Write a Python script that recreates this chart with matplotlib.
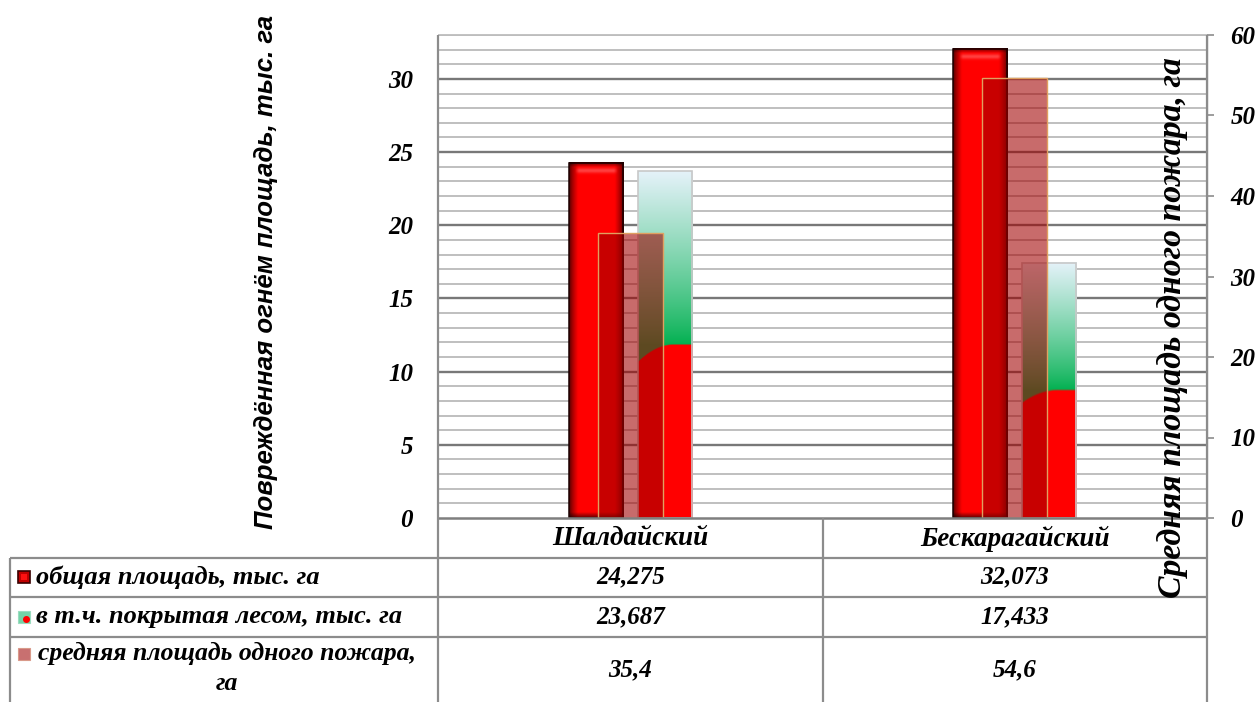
import numpy as np
import matplotlib
matplotlib.use("Agg")
import matplotlib.pyplot as plt
from matplotlib.lines import Line2D
from matplotlib.patches import Rectangle, Ellipse

# ---- data ----
districts = ["Шалдайский", "Бескарагайский"]
total_area = [24.275, 32.073]      # общая площадь, тыс. га
forest_area = [23.687, 17.433]     # в т.ч. покрытая лесом, тыс. га
mean_fire_area = [35.4, 54.6]      # средняя площадь одного пожара, га
series_names = ["общая площадь, тыс. га",
                "в т.ч. покрытая лесом, тыс. га",
                "средняя площадь одного пожара,\nга"]
left_ticks = [0, 5, 10, 15, 20, 25, 30]
right_ticks = [0, 10, 20, 30, 40, 50, 60]
left_title = "Повреждённая огнём площадь, тыс. га"
right_title = "Средняя площадь одного пожара, га"

W, H = 1259, 702
fig = plt.figure(figsize=(W / 100, H / 100), dpi=100)


def fx(px):
    return px / W


def fy(py):
    return 1 - py / H


SERIF = dict(family="Liberation Serif", weight="bold", style="italic")
GRID_C = "#8a8a8a"
LINE_C = "#8c8c8c"

L, R, T, B = 438, 1207, 35, 518
ax = fig.add_axes([fx(L), fy(B), (R - L) / W, (B - T) / H])
ax2 = ax.twinx()

ax.set_xlim(-0.5, len(districts) - 0.5)
ax.set_ylim(0, 33)
ax2.set_ylim(0, 60)

# gridlines: minor every 1, major every 5 (primary axis)
for v in np.arange(1, 34):
    major = (v % 5 == 0)
    ax.axhline(v, color="#787878" if major else "#bababa",
               lw=1.7 if major else 1.3, zorder=0.5)

for s in ("top", "bottom"):
    ax.spines[s].set_visible(False)
    ax2.spines[s].set_visible(False)
ax.spines["left"].set_visible(False)
ax2.spines["left"].set_visible(False)
ax2.spines["right"].set_visible(False)

ax.set_xticks([])
ax.set_yticks(left_ticks)
ax.set_yticklabels([str(t) for t in left_ticks], fontdict=SERIF, fontsize=18)
ax.tick_params(axis="y", length=0, pad=18)
ax2.set_yticks(right_ticks)
ax2.set_yticklabels([str(t) for t in right_ticks], fontdict=SERIF, fontsize=18)
ax2.tick_params(axis="y", length=5, width=1.2, color=LINE_C, pad=12)
ax2.patch.set_visible(False)

xs = np.arange(len(districts))
off = 0.0897
bw_p = 0.141
bw_s = 0.169

fig.canvas.draw()


def px_size(axis, x0, y0, x1, y1):
    p0 = axis.transData.transform((x0, y0))
    p1 = axis.transData.transform((x1, y1))
    return abs(p1[0] - p0[0]), abs(p1[1] - p0[1])


def red_bevel(wpx, hpx):
    w, h = max(int(round(wpx)), 4), max(int(round(hpx)), 4)
    xx = np.arange(w) + 0.5
    yy = np.arange(h) + 0.5
    dx = np.minimum(xx, w - xx)
    dy_top = h - yy
    dy_bot = yy
    fxp = 0.25 + 0.75 * np.clip(dx / 9.0, 0, 1) ** 0.7
    fyp = (0.35 + 0.65 * np.clip(dy_top / 5.0, 0, 1)) * (0.35 + 0.65 * np.clip(dy_bot / 6.0, 0, 1))
    f = np.clip(fyp[:, None] * fxp[None, :], 0, 1)
    img = np.zeros((h, w, 3))
    img[..., 0] = f
    # highlight strip near the top
    band = np.exp(-((dy_top - 8.5) / 2.5) ** 2)[:, None] * np.clip((dx - 6) / 4.0, 0, 1)[None, :]
    hl = np.array([1.0, 0.45, 0.45])
    img = img * (1 - 0.55 * band[..., None]) + hl * 0.55 * band[..., None]
    return img


def forest_fill(wpx, hpx):
    w, h = max(int(round(wpx)), 4), max(int(round(hpx)), 4)
    u = (np.arange(w) + 0.5) / w
    v = (np.arange(h) + 0.5) / h
    U, V = np.meshgrid(u, v)
    bound = 0.5 - 0.05 * np.clip((0.65 - U) / 0.65, 0, 1) ** 2
    t = np.clip((V - 0.5) / 0.5, 0, 1) ** 0.85
    green = np.array([0.0, 0.69, 0.31])
    light = np.array([0.90, 0.95, 0.98])
    up = green[None, None, :] * (1 - t[..., None]) + light[None, None, :] * t[..., None]
    redc = np.array([1.0, 0.0, 0.0])
    m = np.clip((bound - V) * h / 1.5 + 0.5, 0, 1)[..., None]
    return up * (1 - m) + redc * m


# total area bars (primary axis)
for x, val in zip(xs, total_area):
    x0 = x - off - bw_p / 2
    wpx, hpx = px_size(ax, x0, 0, x0 + bw_p, val)
    ax.imshow(red_bevel(wpx, hpx), extent=(x0, x0 + bw_p, 0, val), origin="lower",
              aspect="auto", interpolation="bilinear", zorder=2)
ax.bar(xs - off, total_area, width=bw_p, color="none", edgecolor="#1a0000", lw=1.1, zorder=2.5)

# forest-covered area bars (primary axis)
for x, val in zip(xs, forest_area):
    x0 = x + off - bw_p / 2
    wpx, hpx = px_size(ax, x0, 0, x0 + bw_p, val)
    ax.imshow(forest_fill(wpx, hpx), extent=(x0, x0 + bw_p, 0, val), origin="lower",
              aspect="auto", interpolation="bilinear", zorder=2)
ax.bar(xs + off, forest_area, width=bw_p, color="none", edgecolor="#c8c8c8", lw=1.2, zorder=2.5)

ax.set_xlim(-0.5, len(districts) - 0.5)
ax.set_ylim(0, 33)

# mean fire area bars (secondary axis), translucent
ax2.bar(xs, mean_fire_area, width=bw_s, color=(0.63, 0.0, 0.0, 0.58),
        edgecolor="#e0a060", lw=1.0, zorder=3)
ax2.set_xlim(-0.5, len(districts) - 0.5)
ax2.set_ylim(0, 60)


# ---- frame and data table lines ----
def fline(x0, y0, x1, y1, color=LINE_C, lw=1.6):
    fig.add_artist(Line2D([fx(x0), fx(x1)], [fy(y0), fy(y1)], color=color, lw=lw,
                          transform=fig.transFigure, solid_capstyle="butt"))


rows = [518, 557.5, 597, 637]
fline(L, T, R, T, color="#bdbdbd", lw=1.3)
fline(L, B, R, B, color="#7f7f7f", lw=1.8)
for ry in rows[1:]:
    fline(10, ry, R, ry)
fline(10, rows[1], 10, H)
fline(L, T, L, H)
fline((L + R) / 2, B, (L + R) / 2, H)
fline(R, T, R, H)

col_centers = [(L + (L + R) / 2) / 2, ((L + R) / 2 + R) / 2]
hdr_y = (rows[0] + rows[1]) / 2
for cx, name in zip(col_centers, districts):
    fig.text(fx(cx), fy(hdr_y + 1), name, ha="center", va="center", fontsize=19.5, **SERIF)


def fmt(v):
    return f"{v:g}".replace(".", ",")


row_mid = [(rows[1] + rows[2]) / 2, (rows[2] + rows[3]) / 2, (rows[3] + H) / 2]
for series, ry in zip([total_area, forest_area, mean_fire_area], row_mid):
    for cx, val in zip(col_centers, series):
        fig.text(fx(cx), fy(ry), fmt(val), ha="center", va="center", fontsize=18, **SERIF)

# legend keys + series names
fig.text(fx(36), fy(row_mid[0]), series_names[0], ha="left", va="center", fontsize=19, **SERIF)
fig.text(fx(36), fy(row_mid[1]), series_names[1], ha="left", va="center", fontsize=19, **SERIF)
fig.text(fx(227), fy(row_mid[2] - 1), series_names[2], ha="center", va="center",
         multialignment="center", fontsize=18.5, linespacing=1.35, **SERIF)


def key_rect(x, y, w, h, fc, ec, lw=0.8):
    fig.add_artist(Rectangle((fx(x), fy(y + h)), w / W, h / H, facecolor=fc, edgecolor=ec,
                             lw=lw, transform=fig.transFigure))


key_rect(18, 571, 12, 12, "#c00000", "#3a0000", 1.2)
key_rect(21, 574, 6, 6, "#ff1010", "none", 0)
key_rect(18, 611, 12, 12, "#72d3a6", "#9adcc0", 0.8)
fig.add_artist(Ellipse((fx(26.5), fy(619.5)), 7 / W, 7 / H, facecolor="#ff0000",
                       edgecolor="none", transform=fig.transFigure))
key_rect(18, 648, 12, 12, "#c87070", "#d99a8a", 0.8)

# ---- axis titles, sized to their span ----
renderer = fig.canvas.get_renderer()


def fitted_text(x, y, s, length_px, **kw):
    t = fig.text(fx(x), fy(y), s, rotation=90, ha="center", va="center", fontsize=20, **kw)
    ext = t.get_window_extent(renderer=renderer)
    t.set_fontsize(20 * length_px / ext.height)
    return t


fitted_text(266, 272, left_title, 513, family="Liberation Sans", weight="bold", style="italic")
fitted_text(1173, 328, right_title, 540, **SERIF)

fig.savefig("out.png", dpi=100)
